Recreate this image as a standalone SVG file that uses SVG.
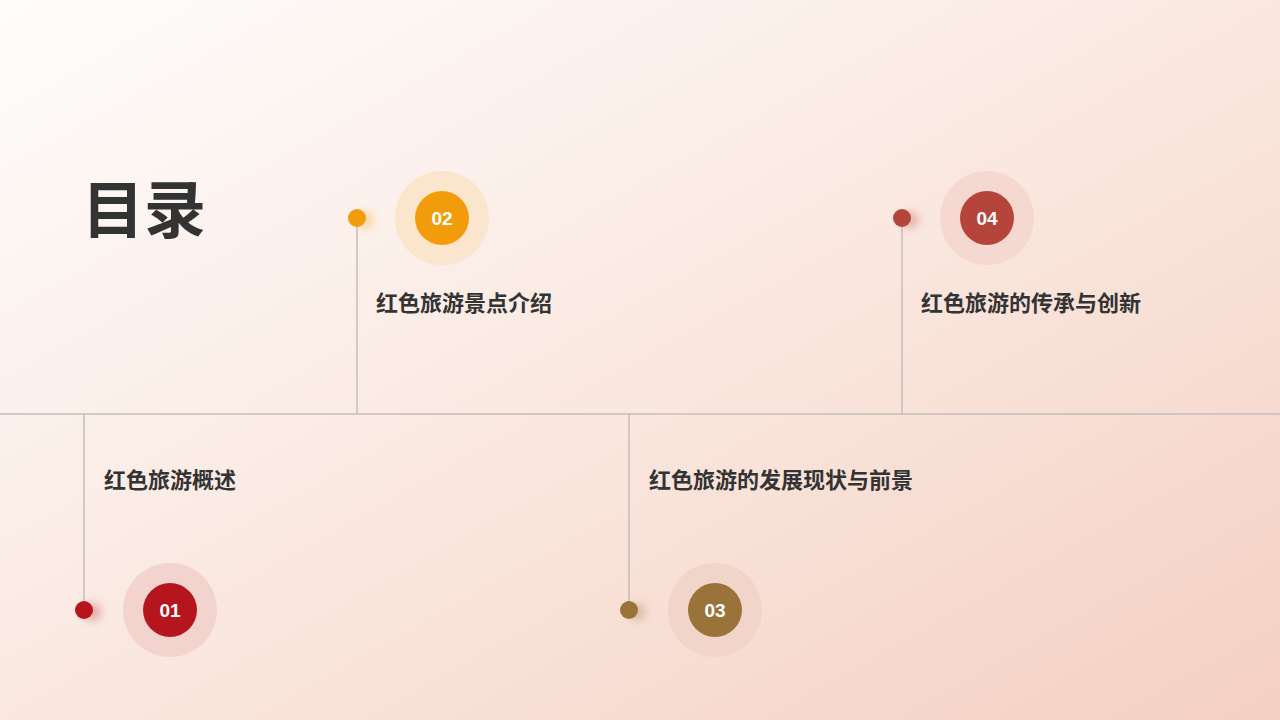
<svg xmlns="http://www.w3.org/2000/svg" width="1280" height="720" viewBox="0 0 1280 720">
<defs>
<linearGradient id="bg" x1="0" y1="0" x2="1" y2="1">
<stop offset="0" stop-color="#fefdfc"/>
<stop offset="0.5" stop-color="#fae8e0"/>
<stop offset="1" stop-color="#f4d0c2"/>
</linearGradient>
<filter id="blur" x="-1" y="-1" width="3" height="3"><feGaussianBlur stdDeviation="4"/></filter>
</defs>
<style>
.lbl{font-family:"Liberation Sans","Noto Sans CJK SC",sans-serif;font-size:22px;font-weight:bold;fill:#333}
.num{font-family:"Liberation Sans","Noto Sans CJK SC",sans-serif;font-size:19px;font-weight:bold;fill:#fff;text-anchor:middle}
.ln{stroke:#c4bcbc;stroke-width:1.5;fill:none}
</style>
<rect width="1280" height="720" fill="url(#bg)"/>
<text x="82" y="233" font-family="Liberation Sans,Noto Sans CJK SC,sans-serif" font-size="62" font-weight="bold" fill="#333">目录</text>
<g id="connectors">
<line class="ln" x1="0" y1="414" x2="1280" y2="414"/>
<line class="ln" x1="84" y1="414" x2="84" y2="610"/>
<line class="ln" x1="357" y1="218" x2="357" y2="414"/>
<line class="ln" x1="629" y1="414" x2="629" y2="610"/>
<line class="ln" x1="902" y1="218" x2="902" y2="414"/>
</g>
<g id="node01">
<circle cx="92" cy="612" r="9" fill="#b5161e" opacity="0.3" filter="url(#blur)"/>
<circle cx="84" cy="610" r="9" fill="#b5161e"/>
<circle cx="170" cy="610" r="47" fill="#f3d3cd"/>
<circle cx="170" cy="610" r="27" fill="#b5161e"/>
<text class="num" x="170" y="617">01</text>
<text class="lbl" x="104" y="488">红色旅游概述</text>
</g>
<g id="node02">
<circle cx="365" cy="220" r="9" fill="#f29c0b" opacity="0.3" filter="url(#blur)"/>
<circle cx="357" cy="218" r="9" fill="#f29c0b"/>
<circle cx="442" cy="218" r="47" fill="#fbe5cc"/>
<circle cx="442" cy="218" r="27" fill="#f29c0b"/>
<text class="num" x="442" y="225">02</text>
<text class="lbl" x="376" y="311">红色旅游景点介绍</text>
</g>
<g id="node03">
<circle cx="637" cy="612" r="9" fill="#9a733a" opacity="0.3" filter="url(#blur)"/>
<circle cx="629" cy="610" r="9" fill="#9a733a"/>
<circle cx="715" cy="610" r="47" fill="#f0d5c8"/>
<circle cx="715" cy="610" r="27" fill="#9a733a"/>
<text class="num" x="715" y="617">03</text>
<text class="lbl" x="649" y="488">红色旅游的发展现状与前景</text>
</g>
<g id="node04">
<circle cx="910" cy="220" r="9" fill="#b5443b" opacity="0.3" filter="url(#blur)"/>
<circle cx="902" cy="218" r="9" fill="#b5443b"/>
<circle cx="987" cy="218" r="47" fill="#f5d8d0"/>
<circle cx="987" cy="218" r="27" fill="#b5443b"/>
<text class="num" x="987" y="225">04</text>
<text class="lbl" x="921" y="311">红色旅游的传承与创新</text>
</g>
</svg>
